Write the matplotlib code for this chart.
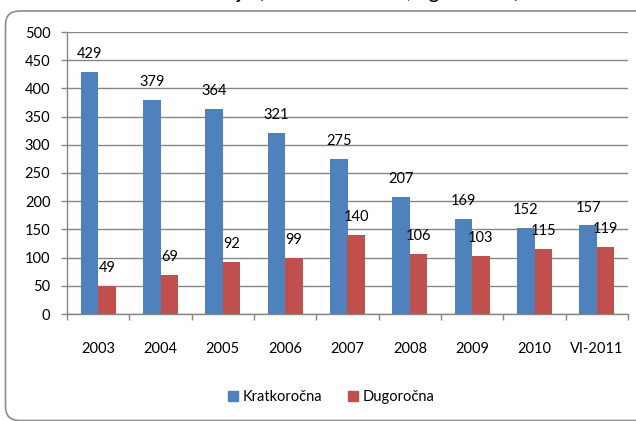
import matplotlib
matplotlib.use("Agg")
import matplotlib.pyplot as plt
import numpy as np
from matplotlib.patches import FancyBboxPatch, Patch
from matplotlib.transforms import IdentityTransform

# data
years = ["2003", "2004", "2005", "2006", "2007", "2008", "2009", "2010", "VI-2011"]
kratkorocna = [429, 379, 364, 321, 275, 207, 169, 152, 157]
dugorocna = [49, 69, 92, 99, 140, 106, 103, 115, 119]
series_names = ["Kratkoročna", "Dugoročna"]
y_ticks = [0, 50, 100, 150, 200, 250, 300, 350, 400, 450, 500]
title_text = "Kreditna zaduženja (u milionima KM, ugovorena)"

blue = "#4F81BD"
red = "#C0504D"
grey = "#868686"

plt.rcParams['font.family'] = ['Lato', 'DejaVu Sans']
W, H = 636, 421
fig = plt.figure(figsize=(W / 100, H / 100), dpi=100)

# rounded chart border (right and bottom run off the picture)
frame = FancyBboxPatch((5.5, 0.5), 660, H - 11.5, boxstyle="round,pad=0,rounding_size=14",
                       transform=IdentityTransform(), facecolor="none",
                       edgecolor="#8c8c8c", linewidth=1.2)
fig.patches.append(frame)

# title is cut off at the top in the reference, only descenders show
fig.text(78 / W, 1 + 2.5 / H, title_text, fontsize=15, va="baseline", ha="left")

ax = fig.add_axes([67 / W, 1 - 314 / H, (628 - 67) / W, (314 - 32) / H])
x = np.arange(len(years))
bw = 0.28
b1 = ax.bar(x - bw / 2, kratkorocna, bw, color=blue, zorder=3)
b2 = ax.bar(x + bw / 2, dugorocna, bw, color=red, zorder=3)

for bars in (b1, b2):
    for r in bars:
        ax.annotate(str(int(r.get_height())), (r.get_x() + r.get_width() / 2, r.get_height()),
                    xytext=(0, 10), textcoords="offset points", ha="center", va="baseline",
                    fontsize=10.5, zorder=4)

ax.set_xlim(-0.5, len(years) - 0.5)
ax.set_ylim(0, 500)
ax.set_yticks(y_ticks)
ax.set_yticklabels([str(t) for t in y_ticks])
ax.yaxis.grid(True, color=grey, linewidth=1)
ax.set_axisbelow(True)

ax.set_xticks(x)
ax.set_xticklabels(years)
ax.set_xticks(np.arange(len(years) + 1) - 0.5, minor=True)
ax.tick_params(axis="x", which="major", length=0, pad=20, labelsize=10.5)
ax.tick_params(axis="x", which="minor", length=4, color=grey, width=1)
ax.tick_params(axis="y", length=4, color=grey, width=1, pad=8, labelsize=10.5)

for s in ["top", "right"]:
    ax.spines[s].set_visible(False)
for s in ["left", "bottom"]:
    ax.spines[s].set_color(grey)
    ax.spines[s].set_linewidth(1)

handles = [Patch(color=blue), Patch(color=red)]
fig.legend(handles, series_names, loc="center", bbox_to_anchor=(331 / W, 1 - 397 / H),
           ncol=2, frameon=False, fontsize=10.5, handlelength=0.7, handleheight=0.7,
           handletextpad=0.3, columnspacing=1.8)

fig.savefig("out.png", dpi=100)
